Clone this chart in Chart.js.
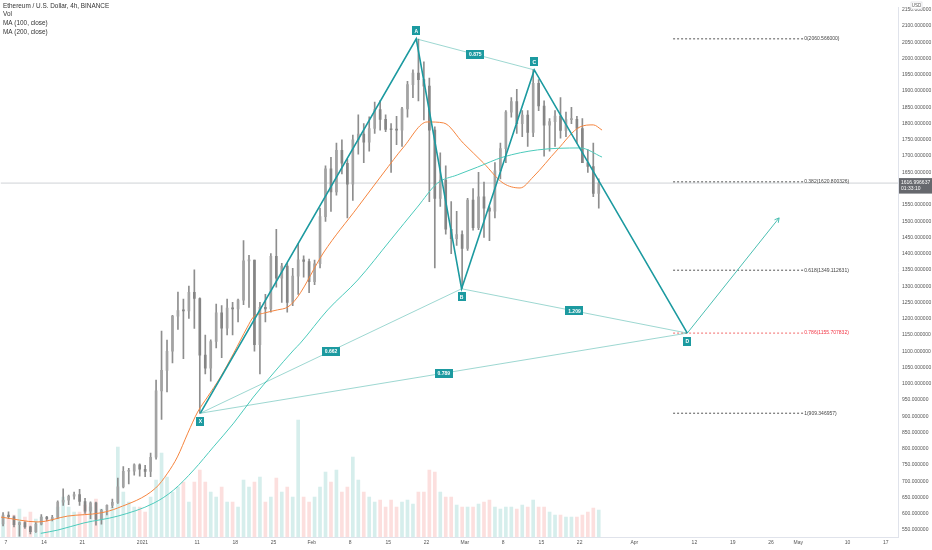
<!DOCTYPE html>
<html>
<head>
<meta charset="utf-8">
<script src="https://cdn.jsdelivr.net/npm/chart.js@4.4.1/dist/chart.umd.min.js"></script>
<style>
  html, body { margin: 0; padding: 0; background: #fff; }
  #wrap { width: 932px; height: 550px; }
</style>
</head>
<body>
<div id="wrap"><canvas id="chart" width="932" height="550"></canvas></div>
<script>
// x unit = days, day 0 = Mon 7 Dec 2020. one candle per day starting 6 Dec 2020
var firstDay = -1;
var firstOpen = 569;
var highs = [
  604, 606, 594, 575, 576, 562, 573, 598, 592, 595,
  640, 677, 658, 667, 675, 648, 637, 636, 614, 628,
  645, 710, 745, 740, 754, 754, 749, 787, 1011, 1162,
  1134, 1210, 1282, 1260, 1300, 1350, 1264, 1150, 1135, 1245,
  1240, 1260, 1250, 1260, 1440, 1395, 1380, 1250, 1275, 1400,
  1475, 1370, 1370, 1355, 1430, 1393, 1383, 1380, 1540, 1670,
  1696, 1740, 1750, 1690, 1765, 1827, 1800, 1821, 1866, 1871,
  1827, 1800, 1822, 1850, 1930, 1965, 2060, 1990, 1940, 1790,
  1710, 1670, 1560, 1530, 1470, 1570, 1600, 1650, 1620, 1545,
  1680, 1740, 1840, 1880, 1905, 1840, 1840, 1965, 1935, 1870,
  1815, 1840, 1880, 1835, 1850, 1822, 1815, 1720, 1740, 1630
];
var lows = [
  563, 585, 560, 531, 555, 538, 543, 566, 578, 578,
  585, 626, 628, 645, 626, 601, 585, 565, 568, 597,
  619, 632, 680, 692, 719, 716, 714, 714, 768, 890,
  975, 1064, 1167, 1077, 1201, 1170, 909, 1030, 1008, 1110,
  1080, 1150, 1150, 1190, 1243, 1235, 1100, 1030, 1190, 1220,
  1297, 1250, 1220, 1240, 1275, 1328, 1280, 1305, 1356, 1499,
  1530, 1580, 1645, 1510, 1564, 1706, 1680, 1715, 1770, 1780,
  1775, 1650, 1735, 1730, 1820, 1880, 1870, 1811, 1560, 1356,
  1545, 1460, 1400, 1425, 1293, 1410, 1472, 1474, 1450, 1440,
  1510, 1630, 1680, 1820, 1770, 1760, 1730, 1760, 1840, 1700,
  1715, 1730, 1755, 1760, 1800, 1740, 1680, 1650, 1575, 1540
];
var closes = [
  596, 591, 567, 573, 560, 545, 568, 590, 585, 589,
  636, 642, 654, 659, 638, 608, 634, 583, 611, 626,
  635, 683, 731, 731, 751, 737, 730, 774, 978, 1041,
  1100, 1208, 1225, 1224, 1281, 1262, 1088, 1048, 1130, 1218,
  1171, 1233, 1230, 1257, 1378, 1380, 1120, 1235, 1230, 1392,
  1325, 1362, 1250, 1331, 1381, 1376, 1314, 1369, 1514, 1661,
  1590, 1718, 1678, 1614, 1750, 1768, 1743, 1785, 1843, 1813,
  1782, 1781, 1780, 1845, 1920, 1955, 1935, 1915, 1780, 1570,
  1626, 1475, 1446, 1459, 1416, 1565, 1480, 1575, 1540, 1531,
  1655, 1723, 1835, 1868, 1800, 1826, 1773, 1924, 1854, 1795,
  1806, 1823, 1779, 1812, 1813, 1785, 1680, 1668, 1585, 1617
];
var volumes = [
  20, 18, 22, 28, 20, 25, 18, 20, 18, 18,
  30, 40, 30, 25, 25, 32, 30, 38, 28, 25,
  30, 90, 45, 35, 30, 30, 25, 40, 57, 84,
  60, 45, 50, 55, 35, 55, 67, 55, 45, 40,
  50, 35, 35, 30, 57, 50, 55, 60, 35, 40,
  59, 45, 50, 40, 117, 40, 35, 40, 50, 65,
  55, 67, 45, 50, 80, 57, 45, 40, 35, 37,
  30, 37, 30, 35, 37, 33, 45, 45, 67, 65,
  45, 40, 40, 32, 30, 30, 30, 33, 35, 37,
  30, 28, 30, 30, 28, 32, 30, 37, 30, 30,
  25, 22, 22, 20, 20, 20, 22, 25, 29, 27
];

// moving averages
var ma100Days = [-0.9, 5.9, 11.3, 17.4, 20.5, 27.4, 29.6, 31.4, 33.3, 35.1, 36.9, 39.3, 41.7, 44.2, 45.3, 47.2, 49.7, 51.6, 53.4, 58.1, 64.4, 69.1, 72.8, 77.1, 80.1, 83.7, 87.4, 91.0, 94.1, 96.5, 100.9, 105.1, 107.5, 109.1];
var ma100 = [590, 575, 593, 603, 618, 679, 725, 775, 848, 913, 959, 1021, 1094, 1174, 1205, 1217, 1227, 1236, 1267, 1402, 1543, 1648, 1728, 1805, 1802, 1740, 1679, 1617, 1602, 1636, 1719, 1790, 1796, 1780];
var ma200Days = [6.4, 9.5, 14.3, 20.5, 27.1, 30.7, 34.4, 38.0, 41.7, 45.3, 49.0, 52.7, 53.9, 58.9, 64.4, 70.4, 75.3, 79.0, 82.6, 86.3, 91.0, 97.3, 105.1, 109.1];
var ma200 = [540, 550, 572, 593, 633, 673, 735, 806, 879, 959, 1033, 1104, 1125, 1227, 1319, 1442, 1543, 1617, 1642, 1666, 1697, 1719, 1725, 1697];

// XABCD pattern
var pointNames = ['X', 'A', 'B', 'C', 'D'];
var pointDays = [35.6, 75.1, 83.4, 96.7, 124.7];
var pointPrices = [909.35, 2060.57, 1292, 1965, 1155.71];
var ratioLinks = [[1, 3], [0, 2], [2, 4], [0, 4]];
var ratioLabels = ['0.875', '0.662', '1.209', '0.789'];
var projectionDay = 141.5;
var projectionPrice = 1510;

// fib retracement X -> A
var fibPrices = [2060.566, 1620.800326, 1349.112631, 1155.707832, 909.346957];
var fibTexts = ['0(2060.566000)', '0.382(1620.800326)', '0.618(1349.112631)', '0.786(1155.707832)', '1(909.346957)'];
var fibStart = 122.1;
var fibEnd = 145.9;

var lastPrice = 1616.996637;
var countdown = '01:33:10';

var tickDays = [0, 7, 14, 25, 35, 42, 49, 56, 63, 70, 77, 84, 91, 98, 105, 115, 126, 133, 140, 145, 154, 161];
var tickLabels = ['7', '14', '21', '2021', '11', '18', '25', 'Feb', '8', '15', '22', 'Mar', '8', '15', '22', 'Apr', '12', '19', '26', 'May', '10', '17'];
var priceTicks = [550, 600, 650, 700, 750, 800, 850, 900, 950, 1000, 1050, 1100, 1150, 1200, 1250, 1300, 1350, 1400, 1450, 1500, 1550, 1600, 1650, 1700, 1750, 1800, 1850, 1900, 1950, 2000, 2050, 2100, 2150];

// visible window of the original: price at the top edge, dollars per pixel, first day at the left edge, pixels per day
var topPrice = 2180, pricePerPx = 3.075;
var leftDay = -0.914, pxPerDay = 5.47;

var FONT = '"Liberation Sans", Arial, sans-serif';
var TEAL = '#1c9aa0';

var opens = [firstOpen].concat(closes.slice(0, -1));
var wickData = [], bodyData = [], volData = [], volColors = [], bodyColors = [];
for (var i = 0; i < closes.length; i++) {
  var x = firstDay + i + 0.5;
  wickData.push({x: x, y: [lows[i], highs[i]]});
  bodyData.push({x: x, y: [opens[i], closes[i]]});
  volData.push({x: x, y: volumes[i]});
  volColors.push(closes[i] >= opens[i] ? 'rgba(38,166,154,0.19)' : 'rgba(239,83,80,0.19)');
  bodyColors.push(closes[i] >= opens[i] ? '#a3a3a3' : '#858585');
}

function pts(days, vals) {
  return days.map(function(d, k) { return {x: d, y: vals[k]}; });
}
function seg(d1, p1, d2, p2, color, width, dash, order) {
  return {type: 'line', data: [{x: d1, y: p1}, {x: d2, y: p2}], borderColor: color,
    borderWidth: width, borderDash: dash || [], pointRadius: 0, fill: false, order: order};
}

var datasets = [
  {type: 'bar', data: volData, yAxisID: 'v', backgroundColor: volColors, barThickness: 3, grouped: false, order: 20},
  seg(-5, lastPrice, 200, lastPrice, '#cfd2d6', 1, null, 19),
  {type: 'bar', data: wickData, backgroundColor: '#8e8e8e', barThickness: 1, grouped: false, order: 15},
  {type: 'bar', data: bodyData, backgroundColor: bodyColors, barThickness: 2, minBarLength: 1, grouped: false, order: 14},
  {type: 'line', data: pts(ma100Days, ma100), borderColor: '#f5853f', borderWidth: 1, pointRadius: 0, tension: 0.4, cubicInterpolationMode: 'monotone', order: 12},
  {type: 'line', data: pts(ma200Days, ma200), borderColor: '#4ccabb', borderWidth: 1, pointRadius: 0, tension: 0.4, cubicInterpolationMode: 'monotone', order: 11}
];
fibPrices.forEach(function(p, k) {
  datasets.push(seg(fibStart, p, fibEnd, p, k === 3 ? '#f26b6b' : '#555', 1, [2, 2], 8));
});
ratioLinks.forEach(function(l) {
  datasets.push(seg(pointDays[l[0]], pointPrices[l[0]], pointDays[l[1]], pointPrices[l[1]], 'rgba(38,166,154,0.45)', 1, null, 6));
});
datasets.push(seg(pointDays[4], pointPrices[4], projectionDay, projectionPrice, '#4cbfb2', 1, null, 5));
datasets.push({type: 'line', data: pts(pointDays, pointPrices), borderColor: TEAL, borderWidth: 1.6, pointRadius: 0, tension: 0, order: 2});

function tag(ctx, text, cx, cy, w) {
  ctx.fillStyle = TEAL;
  ctx.fillRect(Math.round(cx - w / 2), Math.round(cy - 4.5), w, 9);
  ctx.fillStyle = '#ffffff';
  ctx.textAlign = 'center';
  ctx.textBaseline = 'middle';
  ctx.fillText(text, cx, cy + 0.5);
}

var overlay = {
  id: 'overlay',
  afterDatasetsDraw: function(chart) {
    var ctx = chart.ctx, xs = chart.scales.x, ys = chart.scales.y;
    ctx.save();
    ctx.font = '5px ' + FONT;
    ctx.textAlign = 'left';
    ctx.textBaseline = 'middle';
    fibPrices.forEach(function(p, k) {
      ctx.fillStyle = k === 3 ? '#f23645' : '#444';
      ctx.fillText(fibTexts[k], xs.getPixelForValue(fibEnd) + 1, ys.getPixelForValue(p));
    });
    // arrow head on projection
    var dx = xs.getPixelForValue(pointDays[4]), dy = ys.getPixelForValue(pointPrices[4]);
    var ex = xs.getPixelForValue(projectionDay), ey = ys.getPixelForValue(projectionPrice);
    var ang = Math.atan2(ey - dy, ex - dx);
    ctx.strokeStyle = '#4cbfb2';
    ctx.lineWidth = 1;
    ctx.beginPath();
    ctx.moveTo(ex - 5 * Math.cos(ang - 0.5), ey - 5 * Math.sin(ang - 0.5));
    ctx.lineTo(ex, ey);
    ctx.lineTo(ex - 5 * Math.cos(ang + 0.5), ey - 5 * Math.sin(ang + 0.5));
    ctx.stroke();
    ctx.font = 'bold 5px ' + FONT;
    ratioLinks.forEach(function(l, k) {
      var mx = (xs.getPixelForValue(pointDays[l[0]]) + xs.getPixelForValue(pointDays[l[1]])) / 2;
      var my = (ys.getPixelForValue(pointPrices[l[0]]) + ys.getPixelForValue(pointPrices[l[1]])) / 2;
      tag(ctx, ratioLabels[k], mx, my, 18);
    });
    pointNames.forEach(function(n, k) {
      var up = k === 1 || k === 3;
      tag(ctx, n, xs.getPixelForValue(pointDays[k]), ys.getPixelForValue(pointPrices[k]) + (up ? -8 : 8), 8);
    });
    ctx.restore();
  },
  afterDraw: function(chart) {
    var ctx = chart.ctx, ys = chart.scales.y, area = chart.chartArea;
    ctx.save();
    ctx.font = '6.4px ' + FONT;
    ctx.fillStyle = '#333';
    ctx.textAlign = 'left';
    ctx.textBaseline = 'middle';
    ['Ethereum / U.S. Dollar, 4h, BINANCE', 'Vol', 'MA (100, close)', 'MA (200, close)'].forEach(function(t, k) {
      ctx.fillText(t, 3, 6 + k * 8.6);
    });
    // last price box
    var py = ys.getPixelForValue(lastPrice);
    ctx.fillStyle = '#66686d';
    ctx.fillRect(area.right + 1, py - 5, 932 - area.right - 1, 15.5);
    ctx.fillStyle = '#ffffff';
    ctx.font = '5px ' + FONT;
    ctx.fillText(lastPrice.toFixed(6), area.right + 3, py);
    ctx.fillText(countdown, area.right + 3, py + 6);
    // currency
    ctx.fillStyle = '#ffffff';
    ctx.fillRect(911, 2, 11, 7);
    ctx.strokeStyle = '#d6d8de';
    ctx.lineWidth = 0.6;
    ctx.strokeRect(911, 2, 11, 7);
    ctx.fillStyle = '#555';
    ctx.textAlign = 'center';
    ctx.font = '4.5px ' + FONT;
    ctx.fillText('USD', 916.5, 5.5);
    ctx.restore();
  }
};

var chart = new Chart(document.getElementById('chart'), {
  type: 'bar',
  data: {datasets: datasets},
  options: {
    responsive: false,
    animation: false,
    events: [],
    layout: {padding: 0},
    plugins: {legend: {display: false}, tooltip: {enabled: false}},
    scales: {
      x: {
        type: 'linear', min: leftDay, max: leftDay + 898 / pxPerDay, offset: false,
        grid: {display: false, drawTicks: false},
        border: {color: '#e0e3eb'},
        afterFit: function(s) { s.height = 13; },
        afterBuildTicks: function(axis) { axis.ticks = tickDays.map(function(v) { return {value: v}; }); },
        ticks: {
          autoSkip: false, maxRotation: 0, padding: 3, color: '#555',
          font: {size: 5, family: FONT},
          callback: function(v) { return tickLabels[tickDays.indexOf(v)]; }
        }
      },
      y: {
        type: 'linear', position: 'right', min: topPrice - 537 * pricePerPx, max: topPrice,
        grid: {display: false, drawTicks: false},
        border: {color: '#e0e3eb'},
        afterFit: function(s) { s.width = 34; },
        afterBuildTicks: function(axis) { axis.ticks = priceTicks.map(function(v) { return {value: v}; }); },
        ticks: {
          padding: 4, color: '#555',
          font: {size: 5, family: FONT},
          callback: function(v) { return Number(v).toFixed(6); }
        }
      },
      v: {display: false, min: 0, max: 537}
    }
  },
  plugins: [overlay]
});

// match the visible window to the chart area that the layout produced
var ca = chart.chartArea;
chart.options.scales.y.max = topPrice - ca.top * pricePerPx;
chart.options.scales.y.min = topPrice - ca.bottom * pricePerPx;
chart.options.scales.x.min = leftDay + ca.left / pxPerDay;
chart.options.scales.x.max = leftDay + ca.right / pxPerDay;
chart.options.scales.v.max = ca.bottom - ca.top;
chart.update();
</script>
</body>
</html>
